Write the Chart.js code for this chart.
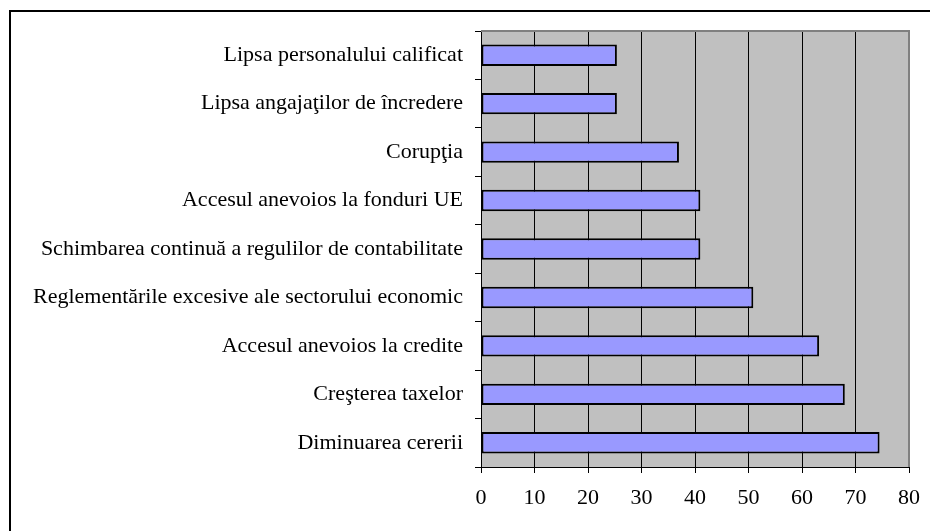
<!DOCTYPE html>
<html>
<head>
<meta charset="utf-8">
<script src="https://cdn.jsdelivr.net/npm/chart.js@4/dist/chart.umd.min.js"></script>
<style>
  html, body { margin: 0; padding: 0; background: #fff; }
  canvas { display: block; }
</style>
</head>
<body>
<canvas id="chart" width="930" height="531"></canvas>
<script>
const categories = [
    'Lipsa personalului calificat',
    'Lipsa angajaţilor de încredere',
    'Corupţia',
    'Accesul anevoios la fonduri UE',
    'Schimbarea continuă a regulilor de contabilitate',
    'Reglementările excesive ale sectorului economic',
    'Accesul anevoios la credite',
    'Creşterea taxelor',
    'Diminuarea cererii'
];
const values = [25.4, 25.4, 37.0, 41.0, 41.0, 50.9, 63.2, 68.0, 74.5];
const xTicks = [0, 10, 20, 30, 40, 50, 60, 70, 80];

// grey plot area with the grey top/right edge, plus the outer frame
const frame = {
    id: 'frame',
    beforeDraw(chart) {
        const { ctx, chartArea: a } = chart;
        ctx.save();
        ctx.fillStyle = '#c0c0c0';
        ctx.fillRect(a.left, a.top, a.right - a.left, a.bottom - a.top);
        ctx.strokeStyle = '#000';
        ctx.lineWidth = 2;
        ctx.beginPath();
        ctx.moveTo(10, 531);
        ctx.lineTo(10, 11);
        ctx.lineTo(930, 11);
        ctx.stroke();
        ctx.restore();
    },
    afterDatasetsDraw(chart) {
        const { ctx, chartArea: a } = chart;
        ctx.save();
        ctx.strokeStyle = '#808080';
        ctx.lineWidth = 2;
        ctx.beginPath();
        ctx.moveTo(a.left, a.top);
        ctx.lineTo(a.right, a.top);
        ctx.lineTo(a.right, a.bottom);
        ctx.stroke();
        ctx.restore();
    }
};

const font = { family: '"Liberation Serif", "Times New Roman", serif', size: 22 };

new Chart(document.getElementById('chart'), {
    type: 'bar',
    data: {
        labels: categories,
        datasets: [{
            data: values,
            backgroundColor: '#9999ff',
            borderColor: '#000',
            borderWidth: 2,
            borderSkipped: false,
            barPercentage: 0.9,
            categoryPercentage: 0.49
        }]
    },
    options: {
        indexAxis: 'y',
        responsive: false,
        animation: false,
        layout: { padding: { top: 31, right: 21, left: 0, bottom: 0 } },
        plugins: {
            legend: { display: false },
            tooltip: { enabled: false }
        },
        scales: {
            x: {
                min: 0,
                max: 80,
                afterBuildTicks: s => { s.ticks = xTicks.map(v => ({ value: v })); },
                afterFit: s => { s.height = 64; s.paddingRight = 0; s.paddingLeft = 0; },
                grid: { color: '#000', lineWidth: 1, tickLength: 6 },
                border: { color: '#000', width: 1 },
                ticks: { color: '#000', font: font, padding: 12 }
            },
            y: {
                afterFit: s => { s.width = 481; s.paddingTop = 0; s.paddingBottom = 0; },
                grid: { drawOnChartArea: false, color: '#000', tickLength: 6 },
                border: { color: '#000', width: 1 },
                ticks: { color: '#000', font: font, padding: 12 }
            }
        }
    },
    plugins: [frame]
});
</script>
</body>
</html>
